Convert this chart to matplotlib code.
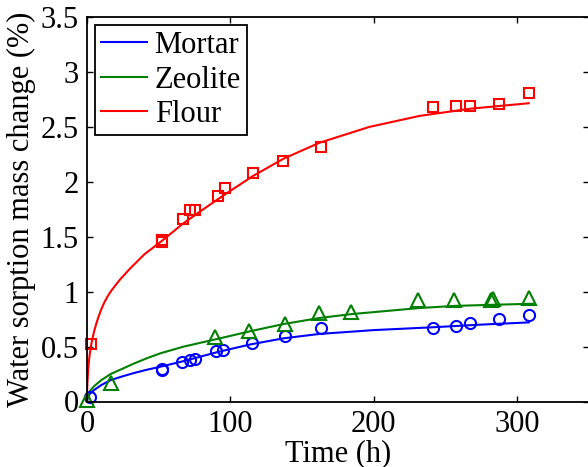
import numpy as np
import matplotlib.pyplot as plt
from matplotlib.ticker import FormatStrFormatter

plt.rcParams['font.family'] = ['Liberation Serif', 'DejaVu Serif']
plt.rcParams['font.size'] = 22

# measured points
t_mortar = [2, 52, 52, 66, 72, 75, 90, 95, 115, 138, 163, 241, 257, 267, 287, 308]
y_mortar = [0.044, 0.29, 0.30, 0.36, 0.38, 0.39, 0.46, 0.47, 0.535, 0.595, 0.67,
            0.67, 0.686, 0.716, 0.747, 0.79]

t_zeolite = [0, 16.5, 89, 113, 138, 162, 184, 231, 256, 282, 283, 308]
y_zeolite = [0.01, 0.165, 0.585, 0.645, 0.705, 0.81, 0.815, 0.92, 0.92, 0.92, 0.93, 0.94]

t_flour = [3, 52, 52, 67, 72, 75, 91, 96, 116, 137, 163, 241, 257, 267, 287, 308]
y_flour = [0.52, 1.45, 1.47, 1.665, 1.74, 1.74, 1.87, 1.94, 2.08, 2.19, 2.32,
           2.68, 2.69, 2.69, 2.71, 2.81]

# fitted curves
tf_mortar = [0, 0.3, 1, 2, 5, 10, 16.5, 25, 33, 42, 51, 67.5, 91, 114, 137, 162,
             200, 240, 275, 308]
yf_mortar = [0, 0.025, 0.05, 0.07, 0.105, 0.15, 0.195, 0.23, 0.26, 0.29, 0.316,
             0.368, 0.45, 0.52, 0.575, 0.615, 0.65, 0.675, 0.70, 0.72]

tf_zeolite = [0, 0.3, 1, 2, 5, 10, 16.5, 25, 33, 42, 51, 67.5, 91, 114, 137, 162,
              184, 231, 256, 282, 311]
yf_zeolite = [0, 0.035, 0.07, 0.095, 0.14, 0.195, 0.25, 0.30, 0.347, 0.395, 0.438,
              0.50, 0.57, 0.64, 0.705, 0.76, 0.795, 0.85, 0.87, 0.88, 0.89]

tf_flour = [0, 0.1, 0.3, 0.6, 1, 1.5, 2, 3, 4, 5, 6.5, 8, 10, 12, 14.5, 17, 20, 23,
            30, 40, 52, 67, 80, 95, 116, 137, 162, 197, 232, 267, 308]
yf_flour = [0, 0.10, 0.17, 0.24, 0.32, 0.385, 0.44, 0.52, 0.585, 0.64, 0.71, 0.77,
            0.84, 0.90, 0.96, 1.01, 1.06, 1.11, 1.21, 1.34, 1.46, 1.62, 1.74,
            1.875, 2.055, 2.21, 2.355, 2.50, 2.60, 2.665, 2.715]

green = (0, 0.5, 0)

fig = plt.figure(figsize=(5.88, 4.67), dpi=100)
ax = fig.add_axes([87 / 588, 65.5 / 467, 502 / 588, 384.5 / 467])

ax.plot(tf_mortar, yf_mortar, color='b', lw=1.5, label='Mortar')
ax.plot(tf_zeolite, yf_zeolite, color=green, lw=1.5, label='Zeolite')
ax.plot(tf_flour, yf_flour, color='r', lw=1.5, label='Flour')

mk = dict(linestyle='none', markerfacecolor='none', markeredgewidth=1.5,
          clip_on=False)
ax.plot(t_mortar, y_mortar, 'o', color='b', markersize=8, **mk)
ax.plot(t_zeolite, y_zeolite, '^', color=green, markersize=9.5, **mk)
ax.plot(t_flour, y_flour, 's', color='r', markersize=7.5, **mk)

ax.set_xlim(0, 350)
ax.set_ylim(0, 3.5)
ax.set_xticks([0, 100, 200, 300])
ax.set_yticks(np.arange(0, 3.51, 0.5))
ax.yaxis.set_major_formatter(FormatStrFormatter('%g'))
ax.tick_params(direction='in', length=4, width=1, top=True, right=True, pad=6)
for s in ax.spines.values():
    s.set_linewidth(1.3)

ax.set_xlabel('Time (h)', labelpad=0)
ax.set_ylabel('Water sorption mass change (%)', labelpad=3)

leg = ax.legend(loc='upper left', bbox_to_anchor=(0.016, 0.979), borderaxespad=0,
                fancybox=False, edgecolor='k', framealpha=1, handlelength=1.5,
                handletextpad=0.25, labelspacing=0.18, borderpad=0.2)
leg.get_frame().set_linewidth(1.3)

fig.savefig('out.png', dpi=100)
